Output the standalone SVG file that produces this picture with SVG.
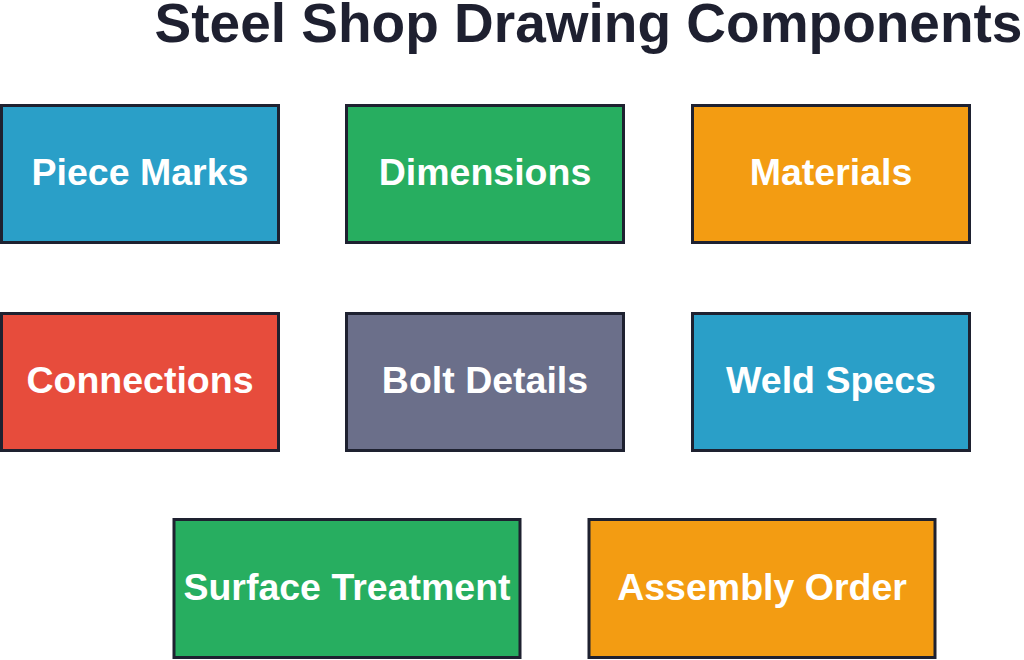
<svg xmlns="http://www.w3.org/2000/svg" width="1024" height="660" viewBox="0 0 1024 660">
<style>
.box{stroke:#1e2130;stroke-width:3}
.lbl{font-family:"Liberation Sans",Arial,sans-serif;font-weight:bold;font-size:37.5px;fill:#ffffff;text-anchor:middle}
.title{font-family:"Liberation Sans",Arial,sans-serif;font-weight:bold;font-size:55px;fill:#1e2030}
.blue{fill:#2a9fc8}.green{fill:#27ae60}.orange{fill:#f39c12}.red{fill:#e74c3c}.slate{fill:#6b6f8a}
</style>
<rect width="1024" height="660" fill="#ffffff"/>
<text class="title" x="588.5" y="42" text-anchor="middle">Steel Shop Drawing Components</text>
<g id="connectors"></g>
<g id="piece-marks"><rect class="box blue" x="1.5" y="105.5" width="277" height="137"/><text class="lbl" x="140" y="185">Piece Marks</text></g>
<g id="dimensions"><rect class="box green" x="346.5" y="105.5" width="277" height="137"/><text class="lbl" x="485" y="185">Dimensions</text></g>
<g id="materials"><rect class="box orange" x="692.5" y="105.5" width="277" height="137"/><text class="lbl" x="831" y="185">Materials</text></g>
<g id="connections"><rect class="box red" x="1.5" y="313.5" width="277" height="137"/><text class="lbl" x="140" y="393">Connections</text></g>
<g id="bolt-details"><rect class="box slate" x="346.5" y="313.5" width="277" height="137"/><text class="lbl" x="485" y="393">Bolt Details</text></g>
<g id="weld-specs"><rect class="box blue" x="692.5" y="313.5" width="277" height="137"/><text class="lbl" x="831" y="393">Weld Specs</text></g>
<g id="surface-treatment"><rect class="box green" x="174" y="519.5" width="346" height="138"/><text class="lbl" x="347" y="600">Surface Treatment</text></g>
<g id="assembly-order"><rect class="box orange" x="589" y="519.5" width="346" height="138"/><text class="lbl" x="762" y="600">Assembly Order</text></g>
</svg>
